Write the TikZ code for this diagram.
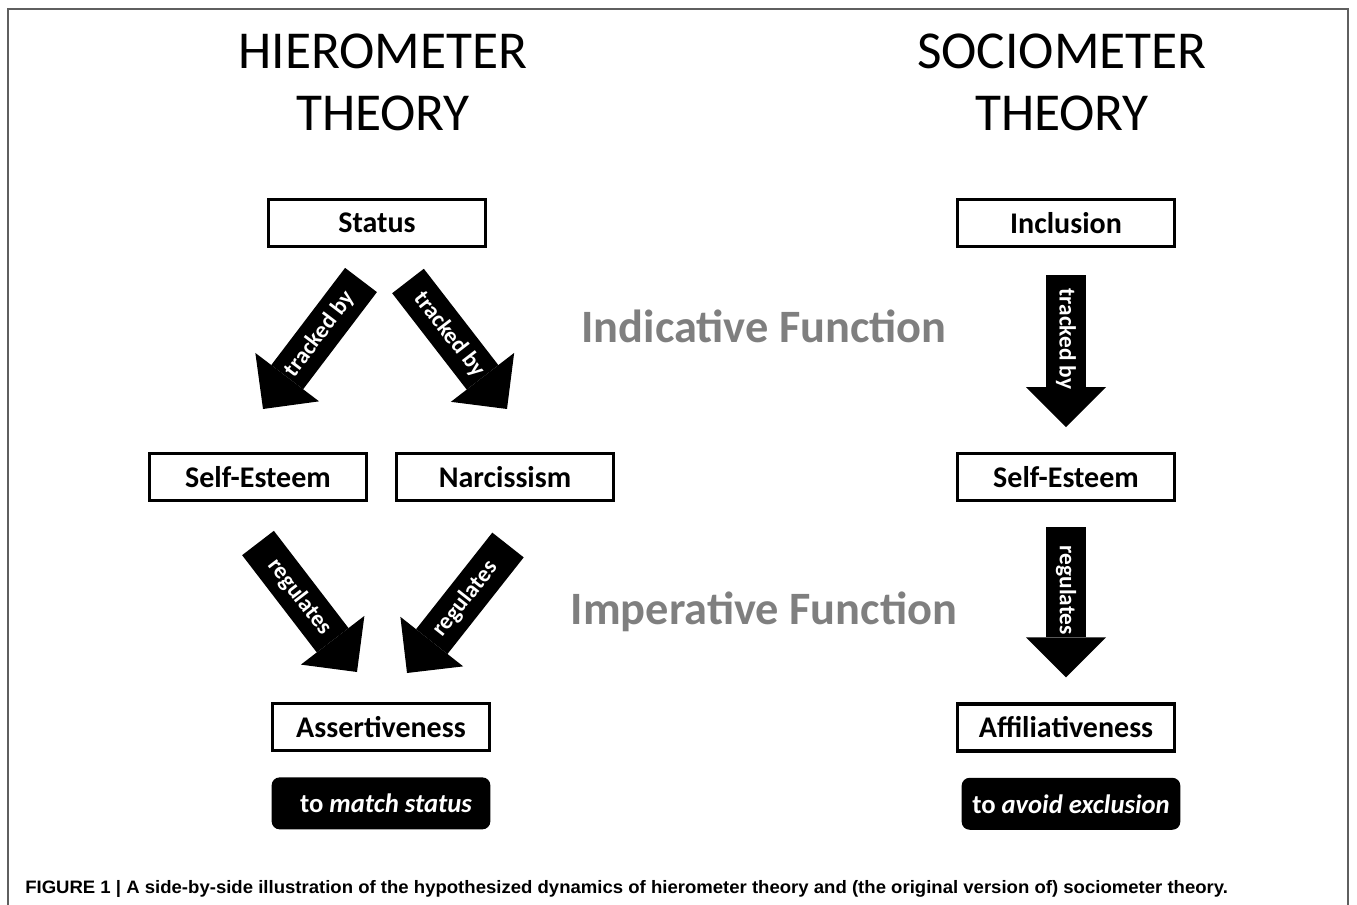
\documentclass[tikz,border=0pt]{standalone}
\usepackage{graphicx}
\usepackage{fontspec}
\setmainfont{Carlito}
\newfontfamily\capfont{Liberation Sans}
\usetikzlibrary{positioning}
\usetikzlibrary{arrows.meta}
\definecolor{funcgray}{RGB}{127,127,127}
\definecolor{framegray}{RGB}{95,95,95}
\tikzset{x=0.75pt, y=-0.75pt, node distance=150pt, font=\fontsize{22.5}{27}\selectfont}
\tikzstyle{block} = [draw, line width=2.4pt, rectangle, minimum width=163pt, minimum height=35.25pt, inner sep=0pt, text centered, font=\bfseries\fontsize{22.5}{27}\selectfont]
\tikzstyle{goal} = [fill=black, rounded corners=6pt, minimum width=164pt, minimum height=39pt, inner sep=0pt, text=white, font=\bfseries\fontsize{20}{24}\selectfont]
\tikzstyle{title} = [align=center, inner sep=0pt, font=\fontsize{40}{46.5}\selectfont]
\tikzstyle{function} = [anchor=base, inner sep=0pt, text=funcgray, font=\bfseries\fontsize{34.8}{40}\selectfont]
\tikzstyle{fat} = [line width=30pt, -{Triangle[width=60pt, length=30pt, line width=0pt]}]
\tikzstyle{fattext} = [pos=0.42, sloped, inner sep=0pt, text=white, font=\bfseries\fontsize{17.5}{20}\selectfont]
\tikzstyle{frame} = [draw=framegray, line width=1.5pt]

\begin{document}
\begin{tikzpicture}
		\useasboundingbox (0,0) rectangle (1357,905);
		\draw [frame] (8,905) -- (8,9) -- (1348,9) -- (1348,905);

		\node [title] (hiero) at (383,82) {HIEROMETER\\THEORY};
		\node [title] (socio) at (1062,82) {SOCIOMETER\\THEORY};

		\node [function] (indicative) at (764,343) {Indicative Function};
		\node [function] (imperative) at (764,624) {Imperative Function};

		% hierometer side
		\node [block] (status) at (377,223) {Status};
		\node [block] (selfesteem_l) at (258,477) {Self-Esteem};
		\node [block] (narcissism) at (505,477) {Narcissism};
		\node [block] (assert) at (381,727) {Assertiveness};
		\node [goal, below=18.75pt of assert] (match) {\hspace*{7.5pt}to \textit{match status}};

		% sociometer side
		\node [block] (inclusion) at (1066,223) {Inclusion};
		\node [block, below=153pt of inclusion] (selfesteem_r) {Self-Esteem};
		\node [block, below=150pt of selfesteem_r] (affil) {Affiliativeness};
		\node [goal, below=18.75pt of affil, xshift=3.75pt] (avoid) {to \textit{avoid exclusion}};

		\coordinate (trk_l_a) at (361,280);
		\coordinate (trk_l_b) at (263,409);
		\coordinate (trk_n_a) at (408,281);
		\coordinate (trk_n_b) at (507,409);
		\coordinate (reg_l_a) at (258,543);
		\coordinate (reg_l_b) at (357,672);
		\coordinate (reg_n_a) at (508,545);
		\coordinate (reg_n_b) at (407,673);
		\coordinate (trk_r_a) at ([yshift=-20.25pt]inclusion.south);
		\coordinate (trk_r_b) at ([yshift=18.75pt]selfesteem_r.north);
		\coordinate (reg_r_a) at ([yshift=-18.75pt]selfesteem_r.south);
		\coordinate (reg_r_b) at ([yshift=18.75pt]affil.north);

		\draw [fat] (trk_l_a) -- node [fattext] {tracked by} (trk_l_b);
		\draw [fat] (trk_n_a) -- node [fattext] {tracked by} (trk_n_b);
		\draw [fat] (reg_l_a) -- node [fattext] {regulates} (reg_l_b);
		\draw [fat] (reg_n_a) -- node [fattext] {regulates} (reg_n_b);
		\draw [fat] (trk_r_a) -- node [fattext] {tracked by} (trk_r_b);
		\draw [fat] (reg_r_a) -- node [fattext] {regulates} (reg_r_b);

		\node [anchor=base west, inner sep=0pt, font=\capfont\bfseries\fontsize{13.5}{16}\selectfont] (caption) at (25,893)
			{\resizebox{902pt}{\height}{FIGURE 1 | A side-by-side illustration of the hypothesized dynamics of hierometer theory and (the original version of) sociometer theory.}};
	\end{tikzpicture}
\end{document}
